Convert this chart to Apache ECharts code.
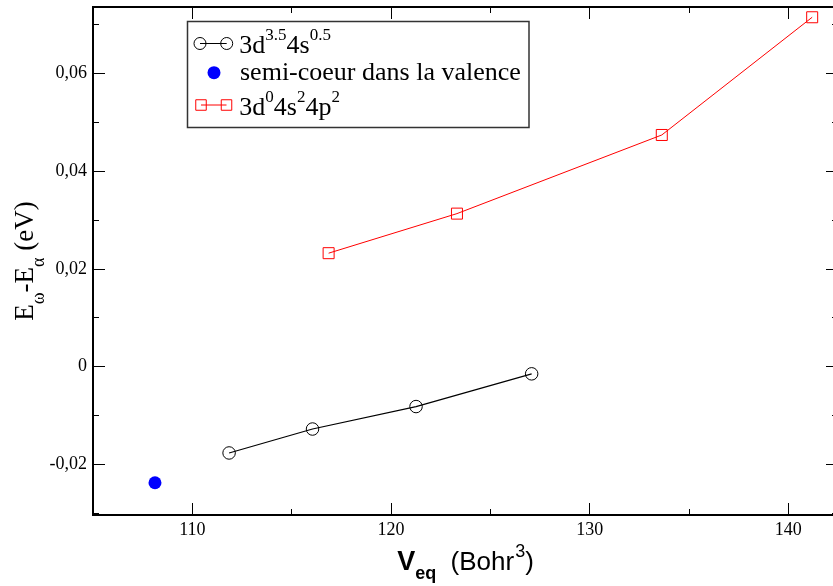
<!DOCTYPE html>
<html><head><meta charset="utf-8">
<script src="https://cdn.jsdelivr.net/npm/echarts@6/dist/echarts.min.js"></script>
<style>html,body{margin:0;padding:0;background:#fff}#c{width:833px;height:586px}</style>
</head><body><div id="c"></div>
<script>
// ---- data ----
const seriesNames = ['3d3.5 4s0.5', 'semi-coeur dans la valence', '3d0 4s2 4p2'];
const volCore35 = [111.85, 116.05, 121.26, 127.08];
const deltaECore35 = [-0.0177, -0.0128, -0.0082, -0.0015];
const volSemiCore = [108.12];
const deltaESemiCore = [-0.0238];
const volCore0 = [116.86, 123.32, 133.63, 141.2];
const deltaECore0 = [0.0232, 0.0313, 0.0474, 0.0715];
const xMajorTicks = [110, 120, 130, 140];
const xMinorTicks = [105, 115, 125, 135];
const yMajorTicks = [-0.02, 0, 0.02, 0.04, 0.06];
const yMinorTicks = [-0.03, -0.01, 0.01, 0.03, 0.05, 0.07];
const xRange = [105, 142.5];
const yRange = [-0.0304, 0.0736];

const SERIF = '"Liberation Serif", "Times New Roman", serif';
const SANS = '"Liberation Sans", Arial, sans-serif';
function fmtY(v) { if (Math.abs(v) < 1e-9) return '0'; return v.toFixed(2).replace('.', ','); }

function axis(dim, pos, ticks, len, showLabel, extra) {
  const r = dim === 'x' ? xRange : yRange;
  return Object.assign({
    type: 'value', gridIndex: 0, position: pos, min: r[0], max: r[1],
    nameMoveOverlap: false,
    axisLine: { show: true, onZero: false, lineStyle: { color: '#000', width: 2 } },
    axisTick: { show: true, inside: true, length: len, customValues: ticks, lineStyle: { color: '#000', width: 1 } },
    axisLabel: { show: showLabel, customValues: ticks, margin: 6, color: '#000', fontFamily: SERIF, fontSize: 18,
      formatter: dim === 'y' ? (v => '{t|' + fmtY(v) + '}') : (v => '{t|' + String(Math.round(v)) + '}'),
      rich: { t: { fontFamily: SERIF, fontSize: 18, color: '#000' } } },
    splitLine: { show: false }
  }, extra || {});
}

const xName = {
  name: '{v|V}{sub|eq}{n|  (Bohr}{sup|3}{n|)}',
  nameLocation: 'middle', nameGap: 28.5,
  nameTextStyle: { rich: {
    v: { fontFamily: SANS, fontWeight: 'bold', fontSize: 27, color: '#000', verticalAlign: 'top', padding: [5.5, 0, 0, 0] },
    sub: { fontFamily: SANS, fontWeight: 'bold', fontSize: 18, color: '#000', verticalAlign: 'top', padding: [21.5, 0, 0, 0] },
    n: { fontFamily: SANS, fontSize: 26, color: '#000', verticalAlign: 'top', padding: [6, 0, 0, 0] },
    sup: { fontFamily: SANS, fontSize: 18, color: '#000', verticalAlign: 'top', padding: [0, 0, 0, 1] }
  } }
};
const yName = {
  name: '{b|E}{sub|ω}{b|-E}{sub|α}{b| (eV)}',
  nameLocation: 'middle', nameGap: 45,
  nameTextStyle: { rich: {
    b: { fontFamily: SERIF, fontSize: 27, color: '#000', verticalAlign: 'top', padding: [0, 0, 0, 0] },
    sub: { fontFamily: SERIF, fontSize: 18, color: '#000', verticalAlign: 'top', padding: [17.5, 0, 0, 0] }
  } }
};

const legRich = {
  b: { fontFamily: SERIF, fontSize: 26, fill: '#000', color: '#000', verticalAlign: 'top', padding: [6.5, 0, 0, 0] },
  s: { fontFamily: SERIF, fontSize: 17, fill: '#000', color: '#000', verticalAlign: 'top', padding: [0, 0, 0, 0] }
};
const Z = 20;
const graphic = [
  { type: 'rect', z: Z, shape: { x: 187.5, y: 21.5, width: 341.5, height: 106 }, style: { fill: '#fff', stroke: '#333', lineWidth: 1.5 } },
  { type: 'line', z: Z + 1, shape: { x1: 200, y1: 43.5, x2: 226.7, y2: 43.5 }, style: { stroke: '#000', lineWidth: 1 } },
  { type: 'circle', z: Z + 1, shape: { cx: 200, cy: 43.5, r: 6 }, style: { fill: 'none', stroke: '#000', lineWidth: 1 } },
  { type: 'circle', z: Z + 1, shape: { cx: 226.7, cy: 43.5, r: 6 }, style: { fill: 'none', stroke: '#000', lineWidth: 1 } },
  { type: 'text', z: Z + 1, x: 239.3, y: 26.9, style: { text: '{b|3d}{s|3.5}{b|4s}{s|0.5}', rich: legRich, verticalAlign: 'top', align: 'left' } },
  { type: 'circle', z: Z + 1, shape: { cx: 214, cy: 72.7, r: 6.5 }, style: { fill: '#0000ff' } },
  { type: 'text', z: Z + 1, x: 240, y: 73.4, style: { text: seriesNames[1], fontFamily: SERIF, fontSize: 26, fill: '#000', verticalAlign: 'middle', align: 'left' } },
  { type: 'line', z: Z + 1, shape: { x1: 201, y1: 105, x2: 226.5, y2: 105 }, style: { stroke: '#ff0000', lineWidth: 1 } },
  { type: 'rect', z: Z + 1, shape: { x: 195.75, y: 99.75, width: 10.5, height: 10.5 }, style: { fill: 'none', stroke: '#ff0000', lineWidth: 1 } },
  { type: 'rect', z: Z + 1, shape: { x: 221.25, y: 99.75, width: 10.5, height: 10.5 }, style: { fill: 'none', stroke: '#ff0000', lineWidth: 1 } },
  { type: 'text', z: Z + 1, x: 239.3, y: 88.6, style: { text: '{b|3d}{s|0}{b|4s}{s|2}{b|4p}{s|2}', rich: legRich, verticalAlign: 'top', align: 'left' } }
];

const chart = echarts.init(document.getElementById('c'), null, { renderer: 'canvas' });
chart.setOption({
  animation: false,
  backgroundColor: '#fff',
  textStyle: { fontFamily: SERIF },
  grid: { left: 93, right: -5, top: 7, bottom: 71, containLabel: false, outerBoundsMode: 'none' },
  xAxis: [
    axis('x', 'bottom', xMajorTicks, 12, true, xName),
    axis('x', 'bottom', xMinorTicks, 6, false),
    axis('x', 'top', xMajorTicks, 12, false),
    axis('x', 'top', xMinorTicks, 6, false)
  ],
  yAxis: [
    axis('y', 'left', yMajorTicks, 12, true, yName),
    axis('y', 'left', yMinorTicks, 6, false),
    axis('y', 'right', yMajorTicks, 12, false),
    axis('y', 'right', yMinorTicks, 6, false)
  ],
  graphic: graphic,
  series: [
    { name: seriesNames[0], type: 'line', xAxisIndex: 0, yAxisIndex: 0,
      data: volCore35.map((v, i) => [v, deltaECore35[i]]),
      symbol: 'circle', symbolSize: 12.5, showSymbol: true,
      itemStyle: { color: 'rgba(0,0,0,0)', borderColor: '#000', borderWidth: 1 },
      lineStyle: { color: '#000', width: 1.2 }, emphasis: { disabled: true } },
    { name: seriesNames[1], type: 'scatter', xAxisIndex: 0, yAxisIndex: 0,
      data: volSemiCore.map((v, i) => [v, deltaESemiCore[i]]),
      symbol: 'circle', symbolSize: 13, itemStyle: { color: '#0000ff', opacity: 1 }, emphasis: { disabled: true } },
    { name: seriesNames[2], type: 'line', xAxisIndex: 0, yAxisIndex: 0,
      data: volCore0.map((v, i) => [v, deltaECore0[i]]),
      symbol: 'rect', symbolSize: 11, showSymbol: true,
      itemStyle: { color: 'rgba(0,0,0,0)', borderColor: '#ff0000', borderWidth: 1 },
      lineStyle: { color: '#ff0000', width: 1 }, emphasis: { disabled: true } }
  ]
});
</script>
</body></html>
